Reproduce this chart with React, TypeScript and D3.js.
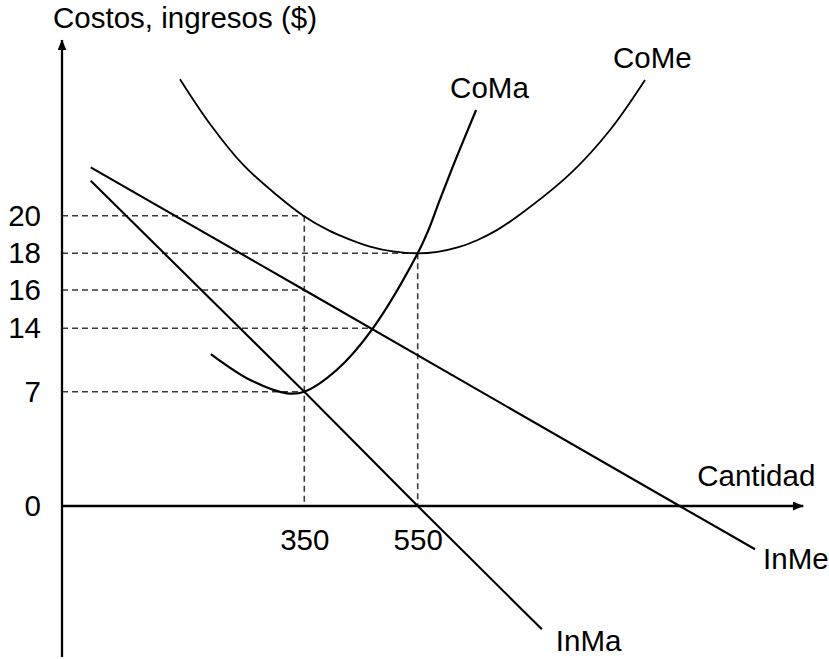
import React, { useEffect, useRef } from "react";
import * as d3 from "d3";

type Pt = [number, number];

// ticks (the diagram is schematic, so the tick spacing is not proportional)
const xTicks = [350, 550];
const yTicks = [0, 7, 14, 16, 18, 20];

// curves: [cantidad, $]
const inMa: Pt[] = [[41.5, 21.86], [350, 7], [550, 0], [769, -7.55]];
const inMe: Pt[] = [[41.5, 22.57], [350, 16], [1012, 0], [1145, -2.65]];
const coMa: Pt[] = [
  [215, 11.16], [272, 8.29], [325, 6.9], [350, 7], [407, 9.4], [470, 13.92],
  [550, 18], [569, 19.24], [589, 20.84], [619, 23.14], [653, 25.62]
];
const coMe: Pt[] = [
  [170.4, 27.26], [213.8, 24.88], [261.9, 22.7], [310.1, 21.1], [348.6, 20],
  [394.8, 19.19], [430.6, 18.73], [465.9, 18.36], [505.9, 18.1], [550, 18],
  [585.3, 18.08], [620.5, 18.31], [655.8, 18.71], [691.1, 19.26], [730.4, 20.06],
  [818.6, 22.22], [889.2, 24.56], [950.9, 27.22]
];

// dashed guides: value on y, reaching out to cantidad q
const hGuides: Pt[] = [[20, 350], [18, 550], [16, 350], [14, 469], [7, 350]];
const vGuides: Pt[] = [[350, 20], [550, 18]];

// axis extents (data units)
const xAxisMax = 1230;
const yAxisMin = -9.25;
const yAxisMax = 29.35;

const App: React.FC = () => {
  const svgRef = useRef<SVGSVGElement | null>(null);

  useEffect(() => {
    if (!svgRef.current) return;
    const width = 829;
    const height = 659;
    const font = "'Liberation Sans', Arial, sans-serif";
    const fontSize = 29.5;

    const svg = d3.select(svgRef.current);
    svg.selectAll("*").remove();
    svg.attr("width", width).attr("height", height);

    const x = d3.scaleLinear().domain([0, 350, 550]).range([62, 304.3, 417.7]);
    const y = d3
      .scaleLinear()
      .domain([0, 7, 14, 16, 18, 20])
      .range([506, 391.7, 328.3, 290, 253.3, 215.7]);

    const defs = svg.append("defs");
    defs
      .append("marker")
      .attr("id", "arrow")
      .attr("viewBox", "0 0 11 9")
      .attr("refX", 10.5)
      .attr("refY", 4.5)
      .attr("markerWidth", 11)
      .attr("markerHeight", 9)
      .attr("markerUnits", "userSpaceOnUse")
      .attr("orient", "auto")
      .append("path")
      .attr("d", "M0,0L11,4.5L0,9Z")
      .attr("fill", "#000");

    // dashed guides
    const guides = svg.append("g")
      .attr("stroke", "#3a3a3a")
      .attr("stroke-width", 1.6)
      .attr("stroke-dasharray", "6,4");
    hGuides.forEach(([v, q]) => {
      guides.append("line")
        .attr("x1", x(0)).attr("x2", x(q))
        .attr("y1", y(v)).attr("y2", y(v));
    });
    vGuides.forEach(([q, v]) => {
      guides.append("line")
        .attr("x1", x(q)).attr("x2", x(q))
        .attr("y1", y(v)).attr("y2", y(0));
    });

    // axes
    svg.append("line")
      .attr("x1", x(0)).attr("x2", x(0))
      .attr("y1", y(yAxisMin)).attr("y2", y(yAxisMax))
      .attr("stroke", "#000").attr("stroke-width", 2.3)
      .attr("marker-end", "url(#arrow)");
    svg.append("line")
      .attr("x1", x(0)).attr("x2", x(xAxisMax))
      .attr("y1", y(0)).attr("y2", y(0))
      .attr("stroke", "#000").attr("stroke-width", 2.3)
      .attr("marker-end", "url(#arrow)");

    const yAxis = svg.append("g")
      .attr("transform", `translate(${x(0)},0)`)
      .call(d3.axisLeft(y).tickValues(yTicks).tickSize(0).tickPadding(21).tickFormat(d3.format("d")));
    const xAxis = svg.append("g")
      .attr("transform", `translate(0,${y(0)})`)
      .call(d3.axisBottom(x).tickValues(xTicks).tickSize(0).tickPadding(23).tickFormat(d3.format("d")));
    [yAxis, xAxis].forEach(g => {
      g.select(".domain").remove();
      g.attr("font-family", font).attr("font-size", fontSize);
      g.selectAll("text").attr("fill", "#000");
    });

    // curves
    const line = d3.line<Pt>().x(d => x(d[0])).y(d => y(d[1]));
    const smooth = d3.line<Pt>().x(d => x(d[0])).y(d => y(d[1])).curve(d3.curveCatmullRom.alpha(0.5));
    const curves: { data: Pt[]; gen: d3.Line<Pt>; w: number }[] = [
      { data: inMa, gen: line, w: 2.1 },
      { data: inMe, gen: line, w: 2.1 },
      { data: coMa, gen: smooth, w: 2.2 },
      { data: coMe, gen: smooth, w: 1.8 }
    ];
    curves.forEach(c => {
      svg.append("path")
        .attr("d", c.gen(c.data))
        .attr("fill", "none")
        .attr("stroke", "#000")
        .attr("stroke-width", c.w);
    });

    // labels
    const end = (d: Pt[]) => d[d.length - 1];
    const labels: { text: string; px: number; py: number }[] = [
      { text: "CoMa", px: x(end(coMa)[0]) - 26, py: y(end(coMa)[1]) - 12 },
      { text: "CoMe", px: x(end(coMe)[0]) - 32, py: y(end(coMe)[1]) - 12 },
      { text: "InMa", px: x(end(inMa)[0]) + 14, py: y(end(inMa)[1]) + 22 },
      { text: "InMe", px: x(end(inMe)[0]) + 8, py: y(end(inMe)[1]) + 20 },
      { text: "Cantidad", px: x(xAxisMax) - 106, py: y(0) - 20 },
      { text: "Costos, ingresos ($)", px: x(0) - 9, py: y(yAxisMax) - 12 }
    ];
    svg.append("g")
      .attr("font-family", font)
      .attr("font-size", fontSize)
      .selectAll("text")
      .data(labels)
      .enter()
      .append("text")
      .attr("x", d => d.px)
      .attr("y", d => d.py)
      .text(d => d.text);
  }, []);

  return (
    <div>
      <svg ref={svgRef} style={{ position: "absolute", left: 0, top: 0, background: "#fff" }}></svg>
    </div>
  );
};

export default App;
